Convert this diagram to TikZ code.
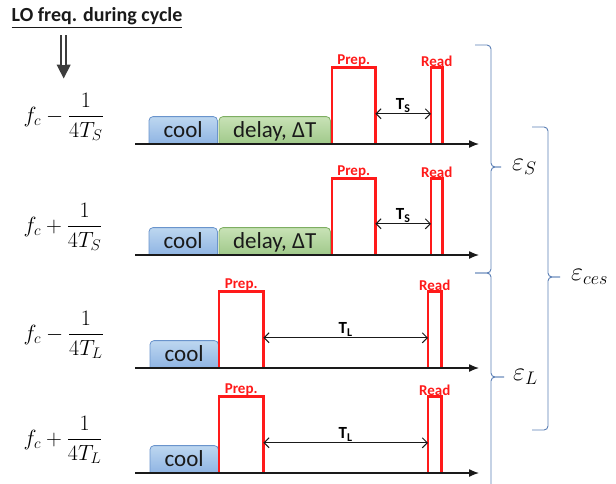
\documentclass[tikz,border=0pt]{standalone}
\usepackage{amsmath}
\usepackage{fix-cm}
\usepackage{fontspec}
\setmainfont{Carlito}
\usepackage{tikz}
\usetikzlibrary{arrows.meta, positioning, calc, backgrounds}
\definecolor{cred}{HTML}{FF1A1A}
\definecolor{cdark}{HTML}{1A1A1A}
\definecolor{cbluetop}{HTML}{BDD7F0}
\definecolor{cblue}{HTML}{8FB4E3}
\definecolor{cbluedk}{HTML}{6A94CC}
\definecolor{cgreentop}{HTML}{C8E2B6}
\definecolor{cgreen}{HTML}{A0C98A}
\definecolor{cgreendk}{HTML}{7EAE62}
\definecolor{cbrace}{HTML}{5B7FB5}

% tab-shaped fill behind a box node: rounded top, square bottom
\newcommand{\tabfill}[2]{%
  \path[#2] (#1.south west) -- ([yshift=-4pt]#1.north west)
    arc[start angle=180, end angle=90, radius=4pt]
    -- ([xshift=-4pt]#1.north east)
    arc[start angle=90, end angle=0, radius=4pt]
    -- (#1.south east);}

\begin{document}
\begin{tikzpicture}[
    x=1pt, y=-1pt,
    font=\fontsize{23}{26}\selectfont,
    axis/.style={line width=1.3pt, draw=cdark, -{Latex[length=10pt,width=8pt]}},
    pulse/.style={rectangle, inner sep=0pt, minimum height=76pt, anchor=south west},
    pline/.style={draw=cred, line width=2.7pt, line join=miter},
    plabel/.style={font=\fontsize{15}{16}\selectfont\bfseries, text=cred, inner sep=1pt},
    tab/.style={rectangle, anchor=south west, inner sep=0pt, minimum height=27pt,
        text height=18pt, text depth=4pt, text=cdark},
    cooltab/.style={tab, minimum width=68pt},
    delaytab/.style={tab, minimum width=111pt},
    coolfill/.style={draw=cbluedk, line width=0.8pt, top color=cbluetop, bottom color=cblue},
    delayfill/.style={draw=cgreendk, line width=0.8pt, top color=cgreentop, bottom color=cgreen},
    dim/.style={{Straight Barb[length=5pt,width=10pt]}-{Straight Barb[length=5pt,width=10pt]},
        line width=1pt, draw=cdark},
    dlabel/.style={font=\fontsize{17}{18}\selectfont\bfseries, inner sep=1pt},
    freq/.style={anchor=west, font=\fontsize{22}{25}\selectfont},
    bigarr/.style={draw=cdark!85, line width=7pt,
        -{Triangle[length=14pt,width=13pt]}, shorten <=3pt, shorten >=11pt},
    bigarrgap/.style={draw=white, line width=3pt, shorten <=2pt, shorten >=25pt},
    brc/.style={draw=cbrace, line width=0.9pt, rounded corners=4pt},
    elabel/.style={font=\fontsize{26}{28}\selectfont, inner sep=0pt},
]
\useasboundingbox (0,0) rectangle (616,483);

% --- Header and frequency labels ---------------------------------------
\node[font=\fontsize{20}{24}\selectfont\bfseries, text=cdark] (title) at (97,18)
    {\underline{LO freq. during cycle}};
\node[freq] (fm1) at (20,117) {$\displaystyle f_c-\frac{1}{4T_S}$};
\node[freq] (fp1) at (20,227) {$\displaystyle f_c+\frac{1}{4T_S}$};
\node[freq] (fm2) at (20,335) {$\displaystyle f_c-\frac{1}{4T_L}$};
\node[freq] (fp2) at (20,440) {$\displaystyle f_c+\frac{1}{4T_L}$};
% hollow shaft: thick line with head, then a white core
\draw[bigarr]    (title.south -| fm1.north) -- (fm1.north);
\draw[bigarrgap] (title.south -| fm1.north) -- (fm1.north);

% --- Row 1: cool, delay, short gap T_S ---------------------------------
\node[cooltab]  (cool1)  at (149,144) {cool};
\node[delaytab] (delay1) at (219,144) {delay, ΔT};
\node[pulse, minimum width=43pt] (prep1) at (332,144) {};
\node[pulse, minimum width=11pt] (read1) at (431,144) {};
\node[plabel, above=0pt of prep1] (prepl1) {Prep.};
\node[plabel, above=0pt of read1] (readl1) {Read};
\draw[pline] (prep1.south west) |- (prep1.north east) -- (prep1.south east);
\draw[pline] (read1.south west) |- (read1.north east) -- (read1.south east);
\draw[dim] ([yshift=-8pt]prep1.east) -- node[dlabel, above] (ts1) {T\textsubscript{S}}
    ([yshift=-8pt]read1.west);

% --- Row 2 -------------------------------------------------------------
\node[cooltab]  (cool2)  at (149,255) {cool};
\node[delaytab] (delay2) at (219,255) {delay, ΔT};
\node[pulse, minimum width=43pt] (prep2) at (332,255) {};
\node[pulse, minimum width=11pt] (read2) at (431,255) {};
\node[plabel, above=0pt of prep2] (prepl2) {Prep.};
\node[plabel, above=0pt of read2] (readl2) {Read};
\draw[pline] (prep2.south west) |- (prep2.north east) -- (prep2.south east);
\draw[pline] (read2.south west) |- (read2.north east) -- (read2.south east);
\draw[dim] ([yshift=-7pt]prep2.east) -- node[dlabel, above] (ts2) {T\textsubscript{S}}
    ([yshift=-7pt]read2.west);

% --- Row 3: no delay, long gap T_L -------------------------------------
\node[cooltab] (cool3) at (150,368) {cool};
\node[pulse, minimum width=44pt] (prep3) at (219,368) {};
\node[pulse, minimum width=13pt] (read3) at (428,368) {};
\node[plabel, above=0pt of prep3] (prepl3) {Prep.};
\node[plabel, above=0pt of read3] (readl3) {Read};
\draw[pline] (prep3.south west) |- (prep3.north east) -- (prep3.south east);
\draw[pline] (read3.south west) |- (read3.north east) -- (read3.south east);
\draw[dim] ([yshift=-8pt]prep3.east) -- node[dlabel, above] (tl3) {T\textsubscript{L}}
    ([yshift=-8pt]read3.west);

% --- Row 4 -------------------------------------------------------------
\node[cooltab] (cool4) at (150,473) {cool};
\node[pulse, minimum width=44pt] (prep4) at (219,473) {};
\node[pulse, minimum width=13pt] (read4) at (428,473) {};
\node[plabel, above=0pt of prep4] (prepl4) {Prep.};
\node[plabel, above=0pt of read4] (readl4) {Read};
\draw[pline] (prep4.south west) |- (prep4.north east) -- (prep4.south east);
\draw[pline] (read4.south west) |- (read4.north east) -- (read4.south east);
\draw[dim] ([yshift=-8pt]prep4.east) -- node[dlabel, above] (tl4) {T\textsubscript{L}}
    ([yshift=-8pt]read4.west);

% box fills go behind text and axes
\begin{scope}[on background layer]
\tabfill{cool1}{coolfill}
\tabfill{delay1}{delayfill}
\tabfill{cool2}{coolfill}
\tabfill{delay2}{delayfill}
\tabfill{cool3}{coolfill}
\tabfill{cool4}{coolfill}
\end{scope}

% --- Time axes (drawn last, over the pulse feet) -----------------------
\coordinate (ax1s) at (135,144); \coordinate (ax1e) at (479,144);
\coordinate (ax2s) at (135,255); \coordinate (ax2e) at (479,255);
\coordinate (ax3s) at (135,368); \coordinate (ax3e) at (479,368);
\coordinate (ax4s) at (135,473); \coordinate (ax4e) at (479,473);
\draw[axis] (ax1s) -- (ax1e);
\draw[axis] (ax2s) -- (ax2e);
\draw[axis] (ax3s) -- (ax3e);
\draw[axis] (ax4s) -- (ax4e);

% --- Error braces ------------------------------------------------------
\coordinate (tipS)   at (501,167);
\coordinate (tipL)   at (504,377);
\coordinate (tipces) at (560,277);
\draw[brc] (475,45) -- (491,45) -- (491,167) -- (tipS);
\draw[brc] (tipS) -- (491,167) -- (491,273) -- (475,273);
\draw[brc] (475,273) -- (491,273) -- (491,377) -- (tipL);
\draw[brc] (tipL) -- (491,377) -- (491,492) -- (475,492);
\draw[brc] (532,127) -- (548,127) -- (548,277) -- (tipces);
\draw[brc] (tipces) -- (548,277) -- (548,430) -- (532,430);
\node[elabel, right=11pt of tipS]   (epsS)   {$\varepsilon_S$};
\node[elabel, right=9pt of tipL]    (epsL)   {$\varepsilon_L$};
\node[elabel, right=11pt of tipces] (epsces) {$\varepsilon_{ces}$};

\end{tikzpicture}
\end{document}
